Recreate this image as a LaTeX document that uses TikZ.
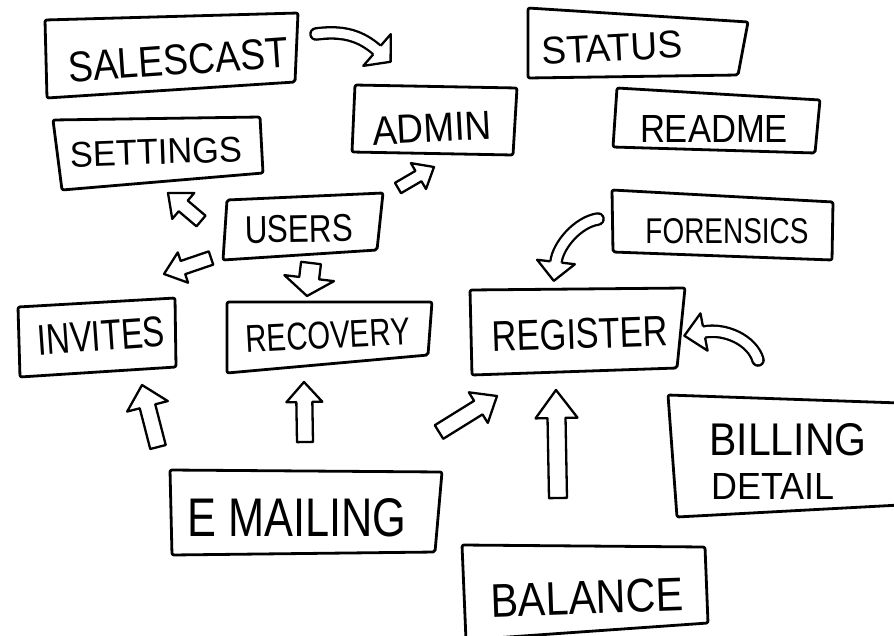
\documentclass[tikz,border=0pt]{standalone}
\usepackage{fontspec}
\setmainfont{Liberation Sans}
\usetikzlibrary{calc}
\newcommand\hwtext[3]{\resizebox{#1pt}{#2pt}{#3}}
\tikzset{
  lbl/.style={inner sep=0pt},
  boxline/.style={line width=2.8pt, line join=round, rounded corners=2pt},
  arrline/.style={line width=2.3pt, line join=round},
  barrow/.style={arrline, fill=white},
  curvshaft/.style={line width=2.3pt, double=white, double distance=9pt, line cap=round},
}
% straight hollow block arrow: from, to, half shaft, half head, head length
\newcommand\blockarrow[5]{%
  \coordinate (ba-h) at ($(#2)!#5!(#1)$);
  \draw[barrow] ($(#1)!#3!90:(#2)$) -- ($(ba-h)!#3!-90:(#1)$) -- ($(ba-h)!#4!-90:(#1)$)
    -- (#2) -- ($(ba-h)!#4!90:(#1)$) -- ($(ba-h)!#3!90:(#1)$) -- ($(#1)!#3!-90:(#2)$) -- cycle;}
% curved hollow arrow: start, c1, c2, head base, half head, head length
\newcommand\curvarrow[6]{%
  \draw[curvshaft] (#1) .. controls (#2) and (#3) .. (#4);
  \coordinate (ca-t) at ($(#4)!-#6!(#3)$);
  \fill[white] ($(#4)!#5!90:(#3)$) -- (ca-t) -- ($(#4)!#5!-90:(#3)$) -- cycle;
  \draw[arrline] ($(#4)!5.65pt!90:(#3)$) -- ($(#4)!#5!90:(#3)$) -- (ca-t)
    -- ($(#4)!#5!-90:(#3)$) -- ($(#4)!5.65pt!-90:(#3)$);}
\begin{document}
\begin{tikzpicture}[x=1pt,y=-1pt]
\useasboundingbox (0,0) rectangle (894,635);
\fill[white] (0,0) rectangle (894,635);

% ---- boxes ----
\draw[boxline] (45,20) -- (298,13) -- (295,82) -- (47,98) -- cycle;
\node[lbl, rotate=4] (salescast) at (178,60) {\hwtext{220}{30}{SALESCAST}};

\draw[boxline] (53,120) -- (260,117) -- (263,173) -- (62,190) -- cycle;
\node[lbl, rotate=2] (settings) at (156,152) {\hwtext{172}{25}{SETTINGS}};

\draw[boxline] (355,85) -- (517,88) -- (513,155) -- (352,152) -- cycle;
\node[lbl, rotate=3] (admin) at (432,128) {\hwtext{119}{28}{ADMIN}};

\draw[boxline] (227,200) -- (383,193) -- (377,250) -- (223,260) -- cycle;
\node[lbl, rotate=1] (users) at (299,229) {\hwtext{108}{27}{USERS}};

\draw[boxline] (528,8) -- (748,22) -- (738,75) -- (528,78) -- cycle;
\node[lbl, rotate=3] (status) at (612,48) {\hwtext{141}{27}{STATUS}};

\draw[boxline] (617,88) -- (820,100) -- (815,153) -- (613,147) -- cycle;
\node[lbl] (readme) at (714,129) {\hwtext{148}{27}{README}};

\draw[boxline] (612,190) -- (833,202) -- (832,260) -- (613,252) -- cycle;
\node[lbl] (forensics) at (727,231) {\hwtext{163}{25}{FORENSICS}};

\draw[boxline] (18,307) -- (175,298) -- (176,367) -- (20,377) -- cycle;
\node[lbl, rotate=4] (invites) at (101,336) {\hwtext{128}{30}{INVITES}};

\draw[boxline] (227,302) -- (432,302) -- (428,355) -- (227,373) -- cycle;
\node[lbl, rotate=3] (recovery) at (328,335) {\hwtext{164}{27}{RECOVERY}};

\draw[boxline] (170,470) -- (442,472) -- (435,552) -- (172,555) -- cycle;
\node[lbl] (emailing) at (297,518) {\hwtext{219}{38}{E MAILING}};

\draw[boxline] (470,290) -- (685,288) -- (677,368) -- (472,375) -- cycle;
\node[lbl, rotate=2] (register) at (580,334) {\hwtext{176}{30}{REGISTER}};

\draw[boxline] (900,403) -- (668,395) -- (677,517) -- (900,505);
\node[lbl] (billing) at (788,440) {\hwtext{157}{32}{BILLING}};
\node[lbl] (detail) at (773,486) {\hwtext{123}{26}{DETAIL}};

\draw[boxline] (462,545) -- (705,547) -- (708,623) -- (466,640) -- cycle;
\node[lbl, rotate=2] (balance) at (587,598) {\hwtext{193}{33}{BALANCE}};

% ---- straight block arrows ----
\coordinate (u2s-a) at (201,221); \coordinate (u2s-b) at (168,193);
\blockarrow{u2s-a}{u2s-b}{7pt}{17pt}{20pt}
\coordinate (u2a-a) at (398,188); \coordinate (u2a-b) at (434,167);
\blockarrow{u2a-a}{u2a-b}{6pt}{15pt}{18pt}
\coordinate (u2i-a) at (211,258); \coordinate (u2i-b) at (164,274);
\blockarrow{u2i-a}{u2i-b}{7pt}{16pt}{20pt}
\coordinate (u2r-a) at (311,263); \coordinate (u2r-b) at (307,296);
\blockarrow{u2r-a}{u2r-b}{10pt}{25pt}{18pt}
\coordinate (e2i-a) at (158,447); \coordinate (e2i-b) at (142,385);
\blockarrow{e2i-a}{e2i-b}{8pt}{21pt}{22pt}
\coordinate (e2r-a) at (305,442); \coordinate (e2r-b) at (304,382);
\blockarrow{e2r-a}{e2r-b}{8pt}{18pt}{20pt}
\coordinate (e2g-a) at (439,432); \coordinate (e2g-b) at (497,396);
\blockarrow{e2g-a}{e2g-b}{8pt}{18pt}{22pt}
\coordinate (b2g-a) at (558,498); \coordinate (b2g-b) at (556,390);
\blockarrow{b2g-a}{b2g-b}{9pt}{21pt}{28pt}

% ---- curved arrows ----
\coordinate (s2a-a) at (316,34); \coordinate (s2a-c1) at (345,30);
\coordinate (s2a-c2) at (362,37); \coordinate (s2a-b) at (377,50);
\curvarrow{s2a-a}{s2a-c1}{s2a-c2}{s2a-b}{21pt}{18pt}
\coordinate (f2g-a) at (598,219); \coordinate (f2g-c1) at (578,222);
\coordinate (f2g-c2) at (558,245); \coordinate (f2g-b) at (556,262);
\curvarrow{f2g-a}{f2g-c1}{f2g-c2}{f2g-b}{19pt}{19pt}
\coordinate (d2g-a) at (758,360); \coordinate (d2g-c1) at (752,340);
\coordinate (d2g-c2) at (725,328); \coordinate (d2g-b) at (704,332);
\curvarrow{d2g-a}{d2g-c1}{d2g-c2}{d2g-b}{19pt}{20pt}
\end{tikzpicture}
\end{document}
